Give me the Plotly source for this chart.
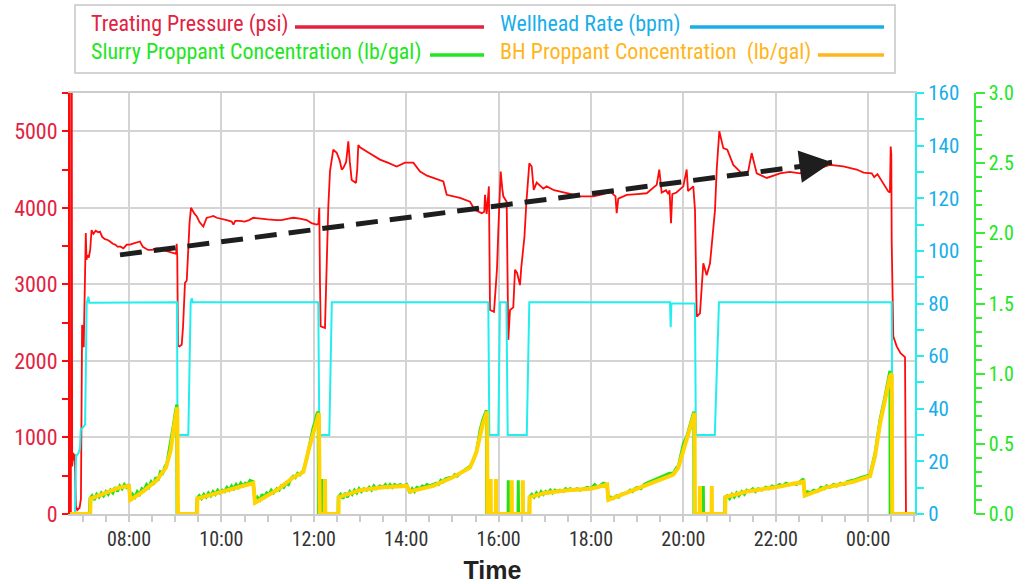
import pandas as pd
import plotly.graph_objects as go

# ---------------- data (time in decimal hours from 2020-01-01 00:00) ----------------
pressure_pts = [
    (6.723, 0), (6.742, 0), (6.748, 5500), (6.762, 5500), (6.770, 620), (6.795, 800),
    (6.810, 700), (6.825, 780), (6.850, 100), (6.880, 50), (6.930, 80), (6.960, 200),
    (6.985, 2470), (7.005, 2400), (7.020, 2180), (7.040, 3000), (7.065, 3670), (7.080, 3320),
    (7.100, 3380), (7.130, 3350), (7.160, 3450), (7.190, 3710), (7.230, 3660), (7.280, 3700),
    (7.330, 3680), (7.372, 3690), (7.420, 3620), (7.480, 3590), (7.540, 3580), (7.589, 3560),
    (7.650, 3530), (7.700, 3520), (7.760, 3490), (7.805, 3495), (7.880, 3470), (7.950, 3520),
    (8.022, 3520), (8.120, 3540), (8.238, 3560), (8.300, 3490), (8.350, 3470), (8.411, 3450),
    (8.500, 3450), (8.600, 3470), (8.671, 3460), (8.800, 3440), (8.900, 3420), (8.996, 3410),
    (9.020, 3400), (9.032, 3530), (9.045, 3350), (9.060, 2200), (9.090, 2190), (9.141, 2210),
    (9.170, 2450), (9.212, 3020), (9.250, 3050), (9.284, 3470), (9.310, 3800), (9.342, 4000),
    (9.380, 3960), (9.420, 3920), (9.465, 3890), (9.530, 3810), (9.608, 3755), (9.640, 3800),
    (9.682, 3870), (9.750, 3880), (9.825, 3895), (9.900, 3870), (10.000, 3860), (10.115, 3840),
    (10.223, 3820), (10.260, 3780), (10.300, 3830), (10.400, 3830), (10.500, 3820), (10.600, 3840),
    (10.691, 3870), (10.800, 3860), (10.900, 3850), (11.000, 3850), (11.197, 3840), (11.300, 3840),
    (11.450, 3860), (11.556, 3870), (11.700, 3860), (11.846, 3840), (11.950, 3800), (12.063, 3780),
    (12.100, 3790), (12.119, 4000), (12.134, 3000), (12.149, 2450), (12.242, 2430), (12.279, 3280),
    (12.313, 4000), (12.351, 4480), (12.422, 4760), (12.496, 4720), (12.560, 4620), (12.604, 4500),
    (12.639, 4520), (12.700, 4600), (12.747, 4870), (12.780, 4600), (12.820, 4365), (12.913, 4325),
    (12.940, 4500), (12.963, 4820), (13.000, 4790), (13.145, 4735), (13.300, 4680), (13.433, 4630),
    (13.600, 4590), (13.794, 4540), (13.974, 4590), (14.154, 4590), (14.300, 4475), (14.450, 4420),
    (14.588, 4390), (14.804, 4345), (14.877, 4170), (15.000, 4150), (15.165, 4130), (15.381, 4080),
    (15.489, 3970), (15.634, 3930), (15.690, 3950), (15.706, 4170), (15.742, 3920), (15.790, 4280),
    (15.805, 3000), (15.814, 2665), (15.900, 2640), (15.940, 3060), (15.965, 3200), (16.000, 3800),
    (16.045, 4475), (16.080, 4250), (16.102, 4150), (16.175, 4080), (16.197, 3000), (16.210, 2275),
    (16.247, 2665), (16.318, 2700), (16.355, 3190), (16.400, 3150), (16.463, 2990), (16.490, 3215),
    (16.560, 3625), (16.600, 4060), (16.665, 4580), (16.716, 4540), (16.760, 4235), (16.825, 4330),
    (16.968, 4250), (17.041, 4280), (17.200, 4230), (17.329, 4215), (17.500, 4190), (17.762, 4150),
    (18.050, 4150), (18.266, 4180), (18.411, 4215), (18.530, 4150), (18.556, 3930), (18.591, 4120),
    (18.773, 4170), (19.000, 4180), (19.206, 4190), (19.422, 4300), (19.478, 4500), (19.530, 4200),
    (19.623, 4230), (19.673, 4180), (19.700, 4230), (19.732, 3800), (19.760, 4180), (19.850, 4200),
    (19.998, 4280), (20.071, 4500), (20.100, 4220), (20.214, 4280), (20.251, 3970), (20.288, 2580),
    (20.359, 2620), (20.431, 3275), (20.504, 3120), (20.576, 3275), (20.647, 3755), (20.684, 3970),
    (20.721, 4500), (20.777, 5000), (20.864, 4780), (20.950, 4760), (21.080, 4560), (21.262, 4450),
    (21.400, 4470), (21.478, 4715), (21.587, 4450), (21.803, 4390), (22.000, 4430), (22.091, 4450),
    (22.300, 4470), (22.524, 4450), (22.700, 4500), (23.000, 4530), (23.173, 4560), (23.461, 4540),
    (23.751, 4500), (23.900, 4460), (24.076, 4450), (24.130, 4400), (24.200, 4440), (24.364, 4280),
    (24.435, 4215), (24.470, 4200), (24.487, 4800), (24.500, 4700), (24.509, 3540), (24.543, 2320),
    (24.617, 2190), (24.700, 2100), (24.797, 2050), (24.818, 0), (25.013, 0),
]

rate_pts = [
    (6.723, 0), (6.831, 0), (6.853, 22), (6.903, 23), (6.940, 25), (6.955, 32), (7.011, 33),
    (7.050, 34), (7.084, 80), (7.119, 82.6), (7.140, 80.3), (9.040, 80.5), (9.050, 30),
    (9.284, 30), (9.335, 80.5), (9.360, 82), (9.380, 80.5), (12.097, 80.5), (12.120, 30),
    (12.335, 30), (12.390, 80.5), (15.777, 80.5), (15.800, 30), (15.994, 30), (16.030, 80.5),
    (16.170, 80.5), (16.197, 30), (16.610, 30), (16.665, 80.5), (19.710, 80.5), (19.725, 71),
    (19.740, 80), (20.250, 80), (20.270, 30), (20.680, 30), (20.770, 80.5), (24.509, 80.5),
    (24.530, 0), (25.013, 0),
]

slurry_pts = [
    (6.723, 0), (7.140, 0), (7.156, 0.11), (7.20, 0.13), (7.25, 0.10), (7.30, 0.14), (7.35, 0.12),
    (7.40, 0.15), (7.45, 0.13), (7.50, 0.16), (7.55, 0.14), (7.60, 0.17), (7.65, 0.15), (7.70, 0.19),
    (7.75, 0.16), (7.80, 0.20), (7.85, 0.18), (7.90, 0.21), (7.95, 0.19), (8.00, 0.21), (8.03, 0.10),
    (8.08, 0.14), (8.13, 0.12), (8.18, 0.16), (8.23, 0.14), (8.28, 0.18), (8.33, 0.17), (8.38, 0.21),
    (8.43, 0.19), (8.48, 0.23), (8.53, 0.21), (8.58, 0.26), (8.63, 0.24), (8.68, 0.30), (8.73, 0.29),
    (8.78, 0.34), (8.82, 0.36), (8.87, 0.45), (8.92, 0.53), (8.96, 0.63), (9.00, 0.72), (9.035, 0.78),
    (9.040, 0), (9.460, 0), (9.472, 0.11), (9.52, 0.13), (9.57, 0.11), (9.62, 0.14), (9.67, 0.12),
    (9.72, 0.15), (9.77, 0.13), (9.82, 0.16), (9.87, 0.14), (9.92, 0.17), (9.97, 0.15), (10.02, 0.17),
    (10.07, 0.16), (10.12, 0.19), (10.17, 0.17), (10.22, 0.20), (10.27, 0.18), (10.32, 0.21),
    (10.37, 0.19), (10.42, 0.22), (10.47, 0.20), (10.52, 0.22), (10.57, 0.21), (10.62, 0.24),
    (10.69, 0.23), (10.727, 0.08), (10.78, 0.12), (10.835, 0.10), (10.88, 0.14), (10.93, 0.12),
    (10.98, 0.15), (11.03, 0.14), (11.08, 0.17), (11.13, 0.15), (11.20, 0.18), (11.25, 0.17),
    (11.30, 0.20), (11.35, 0.19), (11.40, 0.22), (11.45, 0.21), (11.50, 0.25), (11.556, 0.27),
    (11.60, 0.26), (11.65, 0.29), (11.70, 0.28), (11.773, 0.31), (11.85, 0.40), (11.92, 0.52),
    (11.989, 0.62), (12.03, 0.66), (12.063, 0.71), (12.095, 0.73), (12.100, 0), (12.165, 0),
    (12.171, 0.25), (12.177, 0), (12.525, 0), (12.530, 0.12), (12.58, 0.14), (12.63, 0.11),
    (12.68, 0.15), (12.73, 0.12), (12.78, 0.16), (12.83, 0.14), (12.88, 0.17), (12.93, 0.15),
    (12.98, 0.18), (13.03, 0.16), (13.08, 0.18), (13.145, 0.17), (13.20, 0.19), (13.25, 0.17),
    (13.30, 0.20), (13.35, 0.18), (13.43, 0.20), (13.50, 0.19), (13.55, 0.21), (13.60, 0.19),
    (13.65, 0.21), (13.70, 0.19), (13.75, 0.21), (13.80, 0.20), (13.87, 0.21), (13.95, 0.20),
    (14.011, 0.21), (14.08, 0.15), (14.13, 0.18), (14.18, 0.16), (14.23, 0.19), (14.30, 0.18),
    (14.35, 0.20), (14.40, 0.19), (14.45, 0.21), (14.50, 0.20), (14.588, 0.21), (14.65, 0.22),
    (14.70, 0.21), (14.75, 0.24), (14.80, 0.23), (14.85, 0.25), (14.948, 0.26), (15.00, 0.26),
    (15.05, 0.28), (15.10, 0.27), (15.165, 0.29), (15.25, 0.31), (15.31, 0.32), (15.381, 0.34),
    (15.452, 0.38), (15.52, 0.45), (15.561, 0.52), (15.60, 0.60), (15.656, 0.67), (15.706, 0.72),
    (15.735, 0.74), (15.742, 0), (15.790, 0), (15.795, 0.25), (15.800, 0), (16.205, 0),
    (16.210, 0.24), (16.215, 0), (16.420, 0), (16.426, 0.24), (16.432, 0), (16.660, 0),
    (16.665, 0.12), (16.72, 0.14), (16.77, 0.12), (16.82, 0.15), (16.87, 0.13), (16.92, 0.16),
    (16.97, 0.14), (17.02, 0.16), (17.07, 0.15), (17.12, 0.17), (17.17, 0.15), (17.22, 0.17),
    (17.28, 0.16), (17.329, 0.17), (17.40, 0.16), (17.45, 0.18), (17.50, 0.17), (17.55, 0.18),
    (17.62, 0.17), (17.70, 0.18), (17.762, 0.17), (17.85, 0.18), (17.92, 0.19), (18.00, 0.18),
    (18.08, 0.21), (18.15, 0.19), (18.22, 0.21), (18.266, 0.22), (18.35, 0.21), (18.375, 0.10),
    (18.43, 0.12), (18.48, 0.11), (18.55, 0.13), (18.60, 0.12), (18.65, 0.14), (18.773, 0.15),
    (18.85, 0.17), (18.90, 0.16), (18.95, 0.18), (19.00, 0.19), (19.08, 0.18), (19.15, 0.21),
    (19.206, 0.22), (19.28, 0.23), (19.35, 0.24), (19.42, 0.25), (19.50, 0.26), (19.55, 0.27),
    (19.62, 0.28), (19.70, 0.29), (19.781, 0.29), (19.85, 0.33), (19.890, 0.34), (19.95, 0.42),
    (20.00, 0.50), (20.071, 0.55), (20.14, 0.63), (20.214, 0.72), (20.225, 0.73), (20.229, 0),
    (20.425, 0), (20.431, 0.20), (20.437, 0), (20.895, 0), (20.900, 0.12), (20.95, 0.13),
    (21.00, 0.11), (21.05, 0.14), (21.10, 0.12), (21.15, 0.15), (21.20, 0.13), (21.262, 0.16),
    (21.32, 0.14), (21.370, 0.17), (21.43, 0.16), (21.50, 0.18), (21.56, 0.16), (21.62, 0.18),
    (21.70, 0.17), (21.78, 0.19), (21.85, 0.18), (21.92, 0.20), (22.00, 0.19), (22.08, 0.21),
    (22.15, 0.20), (22.22, 0.22), (22.30, 0.21), (22.38, 0.22), (22.45, 0.21), (22.524, 0.23),
    (22.60, 0.25), (22.625, 0.13), (22.68, 0.16), (22.75, 0.15), (22.82, 0.17), (22.90, 0.16),
    (22.98, 0.19), (23.05, 0.18), (23.102, 0.20), (23.17, 0.19), (23.25, 0.21), (23.32, 0.20),
    (23.40, 0.22), (23.48, 0.21), (23.55, 0.23), (23.677, 0.24), (23.75, 0.25), (23.85, 0.26),
    (23.95, 0.27), (24.039, 0.28), (24.147, 0.43), (24.255, 0.67), (24.364, 0.84), (24.457, 1.00),
    (24.470, 1.02), (24.475, 0), (25.013, 0),
]

bh_pts = [
    (6.723, 0), (7.160, 0), (7.170, 0.11), (7.50, 0.15), (7.80, 0.19), (8.00, 0.20), (8.03, 0.10),
    (8.30, 0.16), (8.60, 0.24), (8.80, 0.33), (8.90, 0.45), (9.00, 0.68), (9.045, 0.76), (9.060, 0),
    (9.475, 0), (9.480, 0.11), (10.00, 0.16), (10.69, 0.22), (10.727, 0.08), (11.20, 0.17),
    (11.556, 0.26), (11.773, 0.30), (11.90, 0.47), (12.063, 0.68), (12.110, 0.72), (12.130, 0),
    (12.235, 0), (12.242, 0.25), (12.250, 0), (12.535, 0), (12.540, 0.12), (13.00, 0.17),
    (13.50, 0.19), (14.011, 0.20), (14.082, 0.16), (14.588, 0.20), (15.00, 0.26), (15.381, 0.33),
    (15.52, 0.44), (15.656, 0.64), (15.750, 0.73), (15.760, 0), (15.825, 0), (15.829, 0.25),
    (15.833, 0), (15.940, 0), (15.944, 0.25), (15.948, 0), (16.280, 0), (16.284, 0.24),
    (16.288, 0), (16.520, 0), (16.524, 0.24), (16.528, 0), (16.670, 0), (16.675, 0.12),
    (17.00, 0.15), (17.50, 0.17), (18.00, 0.18), (18.35, 0.21), (18.375, 0.10), (18.773, 0.15),
    (19.206, 0.21), (19.781, 0.28), (19.890, 0.33), (20.071, 0.54), (20.214, 0.70), (20.240, 0.72),
    (20.250, 0), (20.355, 0), (20.359, 0.20), (20.363, 0), (20.610, 0), (20.614, 0.20),
    (20.618, 0), (20.905, 0), (20.910, 0.12), (21.37, 0.16), (22.00, 0.19), (22.60, 0.23),
    (22.625, 0.13), (23.10, 0.19), (23.677, 0.23), (24.039, 0.27), (24.147, 0.41), (24.255, 0.64),
    (24.364, 0.81), (24.470, 0.98), (24.510, 1.00), (24.520, 0), (25.013, 0),
]

trend_hours = [7.805, 23.216]
trend_psi = [3385, 4594]

x_range_hours = [6.723, 25.013]
legend_labels = ["Treating Pressure (psi)", "Wellhead Rate (bpm)",
                 "Slurry Proppant Concentration (lb/gal)", "BH Proppant Concentration  (lb/gal)"]

# ---------------- helpers ----------------
BASE = pd.Timestamp("2020-01-01")


def to_time(hours):
    return [BASE + pd.Timedelta(hours=h) for h in hours]


def split(pts):
    return to_time([p[0] for p in pts]), [p[1] for p in pts]


FONT = "Roboto Condensed, DejaVu Sans Condensed, Arial Narrow, sans-serif"

C_RED_LINE = "#ff0a0a"
C_CYAN_LINE = "#22eeee"
C_GREEN_LINE = "#22e01a"
C_YELLOW_LINE = "#ffd400"
C_RED_TXT = "#e3223f"
C_BLUE_TXT = "#18aeea"
C_GREEN_TXT = "#22e622"
C_ORANGE_TXT = "#ffb51c"

fig = go.Figure()

tx, ty = split(slurry_pts)
fig.add_trace(go.Scatter(x=tx, y=ty, yaxis="y3", mode="lines",
                         line=dict(color=C_GREEN_LINE, width=3), name=legend_labels[2]))
tx, ty = split(bh_pts)
fig.add_trace(go.Scatter(x=tx, y=ty, yaxis="y3", mode="lines",
                         line=dict(color=C_YELLOW_LINE, width=4), name=legend_labels[3]))
tx, ty = split(rate_pts)
fig.add_trace(go.Scatter(x=tx, y=ty, yaxis="y2", mode="lines",
                         line=dict(color=C_CYAN_LINE, width=2), name=legend_labels[1]))
tx, ty = split(pressure_pts)
fig.add_trace(go.Scatter(x=tx, y=ty, yaxis="y", mode="lines",
                         line=dict(color=C_RED_LINE, width=1.8), name=legend_labels[0]))

# trend arrow (dashed shaft + arrow head)
tt = to_time(trend_hours)
fig.add_trace(go.Scatter(x=tt, y=trend_psi, yaxis="y", mode="lines",
                         line=dict(color="#1e1e1e", width=5, dash="22px,12px"),
                         showlegend=False, hoverinfo="skip"))
frac = 0.955
tail_h = trend_hours[0] + frac * (trend_hours[1] - trend_hours[0])
tail_p = trend_psi[0] + frac * (trend_psi[1] - trend_psi[0])
annotations = [dict(x=tt[1], y=trend_psi[1], xref="x", yref="y",
                    ax=to_time([tail_h])[0], ay=tail_p, axref="x", ayref="y",
                    showarrow=True, arrowhead=2, arrowsize=1.3, arrowwidth=5,
                    arrowcolor="#1e1e1e", text="")]

# ---------------- legend drawn as text + line samples ----------------
L, R, T, B = 70, 54, 93, 70
W, H = 1029 - L - R, 584 - T - B


def px(x):
    return (x - L) / W


def py(y):
    return (584 - B - y) / H


shapes = [dict(type="rect", xref="paper", yref="paper", x0=px(75), x1=px(895), y0=py(73), y1=py(5),
               line=dict(color="#c6c6c6", width=1.5), fillcolor="white", layer="above")]
leg_items = [
    (legend_labels[0], C_RED_TXT, 89, 24, (295, 484), "#e3223f"),
    (legend_labels[1], C_BLUE_TXT, 498, 24, (690, 884), "#18aeea"),
    (legend_labels[2], C_GREEN_TXT, 89, 52, (430, 484), "#22e622"),
    (legend_labels[3], C_ORANGE_TXT, 498, 52, (818, 884), "#ffb51c"),
]
for text, col, x0, yc, (l0, l1), lcol in leg_items:
    annotations.append(dict(text=text, x=px(x0), y=py(yc), xref="paper", yref="paper",
                            xanchor="left", yanchor="middle", showarrow=False,
                            font=dict(family=FONT, size=22, color=col)))
    shapes.append(dict(type="line", xref="paper", yref="paper", x0=px(l0), x1=px(l1),
                       y0=py(yc + 3), y1=py(yc + 3), line=dict(color=lcol, width=3.5)))

fig.update_layout(
    width=1029, height=584, autosize=False,
    margin=dict(l=L, r=R, t=T, b=B, pad=0),
    paper_bgcolor="white", plot_bgcolor="white",
    showlegend=False,
    font=dict(family=FONT, size=20),
    xaxis=dict(
        type="date", domain=[0, 845 / W], automargin=False,
        range=to_time(x_range_hours),
        tick0="2020-01-01 00:00", dtick=2 * 3600 * 1000, tickformat="%H:%M",
        showgrid=True, gridcolor="#d4d4d4", gridwidth=1.5,
        showline=True, linecolor="#cccccc", linewidth=1.5, mirror=True,
        ticks="outside", ticklen=6, tickcolor="#cccccc", tickwidth=1.5,
        minor=dict(dtick=1800 * 1000, ticks="outside", ticklen=6, tickcolor="#cccccc", showgrid=False),
        tickfont=dict(family=FONT, size=20, color="#333333"),
        title=dict(text="<b>Time</b>", font=dict(family="Liberation Sans, Arial, sans-serif", size=25, color="#222222"),
                   standoff=12),
        zeroline=False,
    ),
    yaxis=dict(
        range=[0, 5500], tick0=0, dtick=1000, automargin=False,
        showgrid=True, gridcolor="#d4d4d4", gridwidth=1.5, zeroline=False,
        showline=True, linecolor="#ff0a0a", linewidth=2,
        ticks="outside", ticklen=6, tickcolor="#ff0a0a", tickwidth=1.5,
        minor=dict(dtick=500, ticks="outside", ticklen=6, tickcolor="#ff0a0a", showgrid=False),
        tickfont=dict(family=FONT, size=22, color=C_RED_TXT),
    ),
    yaxis2=dict(
        overlaying="y", side="right", anchor="x", automargin=False,
        range=[0, 160], tick0=0, dtick=20, showgrid=False, zeroline=False,
        showline=True, linecolor="#22eeee", linewidth=2,
        ticks="outside", ticklen=7, tickcolor="#22eeee", tickwidth=1.5,
        minor=dict(dtick=10, ticks="outside", ticklen=7, tickcolor="#22eeee"),
        tickfont=dict(family=FONT, size=21, color=C_BLUE_TXT),
    ),
    yaxis3=dict(
        overlaying="y", side="right", anchor="free", position=1.0, automargin=False,
        range=[0, 3], tick0=0, dtick=0.5, tickformat=".1f", showgrid=False, zeroline=False,
        showline=True, linecolor="#33ee33", linewidth=1.5,
        ticks="outside", ticklen=9, tickcolor="#33ee33", tickwidth=1.5,
        minor=dict(dtick=0.1, ticks="outside", ticklen=6, tickcolor="#33ee33"),
        tickfont=dict(family=FONT, size=20, color=C_GREEN_TXT),
    ),
    shapes=shapes,
    annotations=annotations,
)

fig.write_html("out.html", config={"displayModeBar": False},
               post_script="document.body.style.margin='0px';document.body.style.overflow='hidden';")
